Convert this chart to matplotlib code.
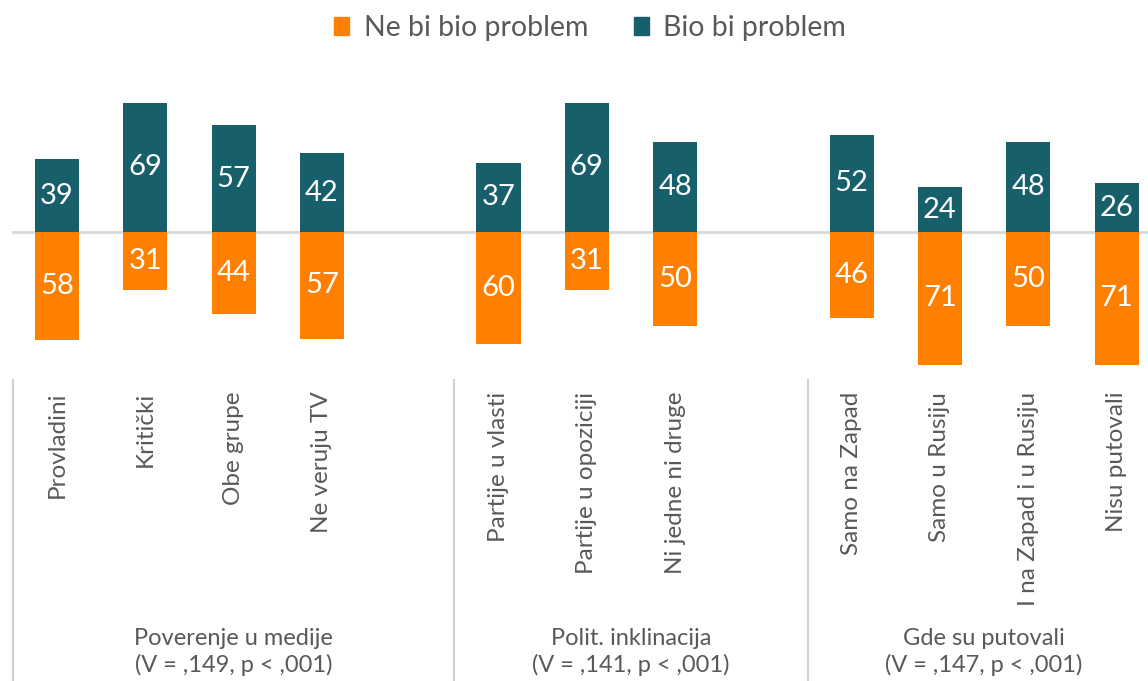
import matplotlib
matplotlib.use("Agg")
import matplotlib.pyplot as plt
from matplotlib.patches import Patch
import numpy as np

plt.rcParams['font.family'] = ['Lato', 'DejaVu Sans']

categories = ["Provladini", "Kritički", "Obe grupe", "Ne veruju TV", "",
              "Partije u vlasti", "Partije u opoziciji", "Ni jedne ni druge", "",
              "Samo na Zapad", "Samo u Rusiju", "I na Zapad i u Rusiju", "Nisu putovali"]
bio_bi = [39, 69, 57, 42, None, 37, 69, 48, None, 52, 24, 48, 26]
ne_bi = [58, 31, 44, 57, None, 60, 31, 50, None, 46, 71, 50, 71]
groups = ["Poverenje u medije\n(V = ,149, p < ,001)",
          "Polit. inklinacija\n(V = ,141, p < ,001)",
          "Gde su putovali\n(V = ,147, p < ,001)"]
group_spans = [(0, 4), (5, 8), (9, 12)]
series_names = ["Ne bi bio problem", "Bio bi problem"]

ORANGE = "#FF8000"
TEAL = "#185F6C"
GREY = "#595959"

W, H = 1148, 681
fig = plt.figure(figsize=(W / 100, H / 100), dpi=100)

ax_top_px, ax_bot_px, zero_px, ppu = 60, 375, 232, 1.87
x0_px, slot_px, left_px = 57, 88.3, 12
ax = fig.add_axes([left_px / W, 1 - ax_bot_px / H, (W - left_px) / W, (ax_bot_px - ax_top_px) / H])
ax.set_ylim(-(ax_bot_px - zero_px) / ppu, (zero_px - ax_top_px) / ppu)
ax.set_xlim((left_px - x0_px) / slot_px, (W - x0_px) / slot_px)

x = np.arange(len(categories))
for i in x:
    if bio_bi[i] is not None:
        ax.bar(i, bio_bi[i], width=0.5, color=TEAL)
        ax.text(i, bio_bi[i] / 2, f"{bio_bi[i]}", ha="center", va="center",
                color="white", fontsize=21)
    if ne_bi[i] is not None:
        ax.bar(i, -ne_bi[i], width=0.5, color=ORANGE)
        ax.text(i, -ne_bi[i] / 2, f"{ne_bi[i]}", ha="center", va="center",
                color="white", fontsize=21)

ax.axhline(0, color="#D9D9D9", lw=2, zorder=0)
for s in ax.spines.values():
    s.set_visible(False)
ax.set_yticks([])
ax.set_xticks(x)
ax.set_xticklabels(categories, rotation=90, va="top", ha="center",
                   fontsize=17.5, color=GREY)
ax.tick_params(axis="x", length=0, pad=12)

trans = ax.get_xaxis_transform()
h_ax = ax_bot_px - ax_top_px
for sep in [-0.5, 4.5, 8.5]:
    ax.plot([sep, sep], [-(380 - ax_bot_px) / h_ax, -(H - ax_bot_px) / h_ax],
            transform=trans, color="#D0D0D0", lw=1.5, clip_on=False)
for (a, b), g in zip(group_spans, groups):
    c = (a + b) / 2
    ax.text(c, -(652 - ax_bot_px) / h_ax, g,
            transform=trans, ha="center", va="center", fontsize=17,
            color=GREY, linespacing=1.3)

handles = [Patch(color=ORANGE), Patch(color=TEAL)]
fig.legend(handles, series_names, loc="center", bbox_to_anchor=(590 / W, 1 - 28 / H),
           ncol=2, frameon=False, fontsize=20.5, labelcolor=GREY,
           handlelength=0.55, handleheight=0.55, handletextpad=0.5, columnspacing=1.6)

fig.savefig("out.png", dpi=100)
